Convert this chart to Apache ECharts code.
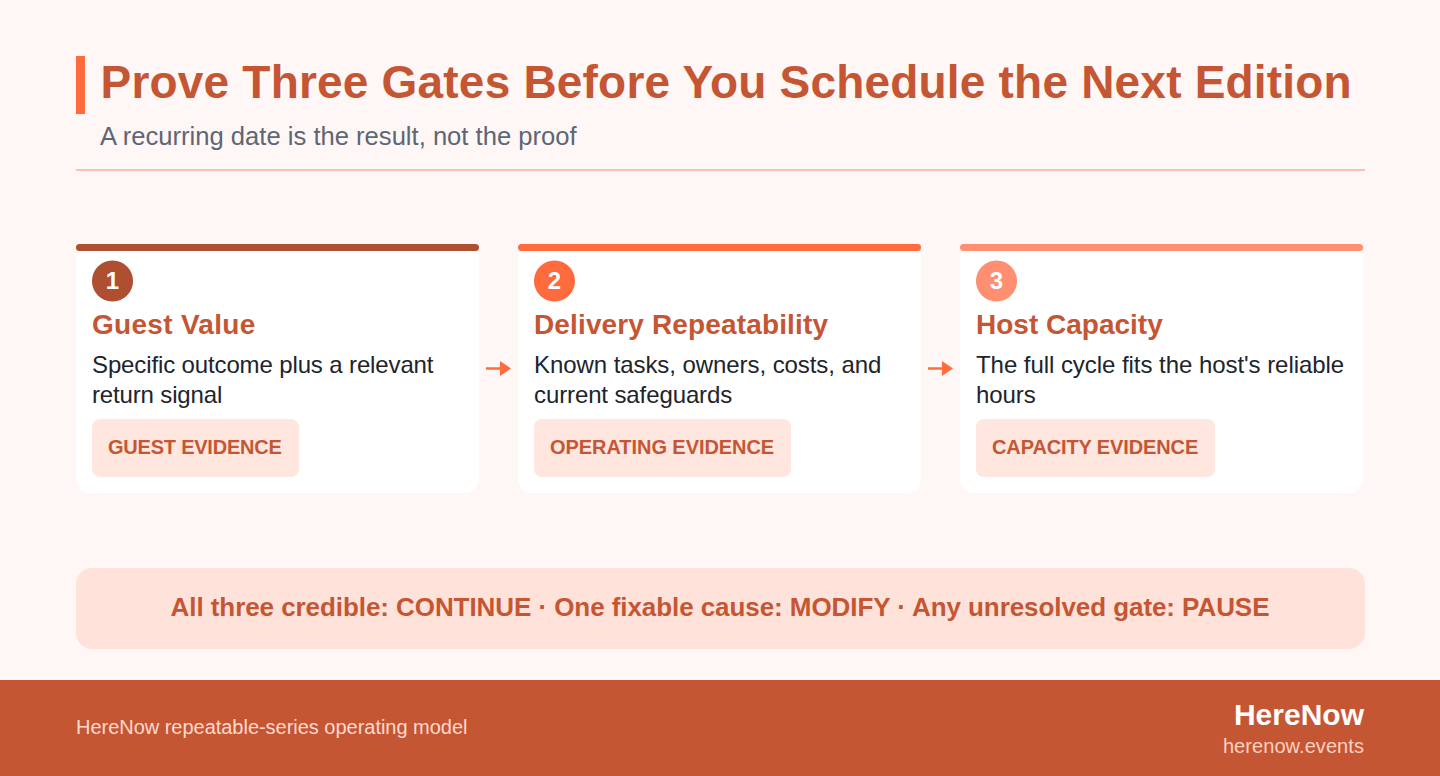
<!DOCTYPE html>
<html><head><meta charset="utf-8">
<style>html,body{margin:0;padding:0;background:#FFF7F5}#c{width:1440px;height:776px}</style>
<script src="https://cdn.jsdelivr.net/npm/echarts@6/dist/echarts.min.js"></script>
</head><body><div id="c"></div>
<script>
const heading = "Prove Three Gates Before You Schedule the Next Edition";
const subheading = "A recurring date is the result, not the proof";
const gateNumbers = ["1","2","3"];
const gateTitles = ["Guest Value","Delivery Repeatability","Host Capacity"];
const gateLine1 = ["Specific outcome plus a relevant","Known tasks, owners, costs, and","The full cycle fits the host's reliable"];
const gateLine2 = ["return signal","current safeguards","hours"];
const gateChips = ["GUEST EVIDENCE","OPERATING EVIDENCE","CAPACITY EVIDENCE"];
const gateColors = ["#AD4F30","#FF6B3D","#FF8F70"];
const verdict = "All three credible: CONTINUE · One fixable cause: MODIFY · Any unresolved gate: PAUSE";
const footerLeft = "HereNow repeatable-series operating model";
const brand = "HereNow";
const brandUrl = "herenow.events";

const F = "'Liberation Sans', Arial, sans-serif";
const rust = "#C55633";
const rect = (x,y,w,h,fill,r,z) => ({type:'rect',shape:{x,y,width:w,height:h,r:r||0},style:{fill},z:z||1,silent:true});
const text = (x,y,t,font,fill,align,z) => ({type:'text',x,y,style:{text:t,font,fill,textAlign:align||'left',textVerticalAlign:'middle'},z:z||5,silent:true});

const els = [];
els.push(rect(0,0,1440,776,'#FFF7F5'));
els.push(rect(76,56,9,58,'#FF6B3D'));
els.push(text(100.5,82,heading,`bold 46px ${F}`,rust));
els.push(text(100,136,subheading,`25.6px ${F}`,'#5D6675'));
els.push(rect(76,169,1289,2,'#FFBFB0'));

const chipW = [207,257,239];
gateTitles.forEach((title,i)=>{
  const x = 76 + i*442;
  els.push(rect(x,244,403,249,'#FFFFFF',14,1));
  els.push(rect(x,244,403,7,gateColors[i],3.5,2));
  els.push({type:'circle',shape:{cx:x+36.5,cy:281,r:20.5},style:{fill:gateColors[i]},z:3,silent:true});
  els.push(text(x+36.5,280.5,gateNumbers[i],`bold 24px ${F}`,'#FFFFFF','center'));
  els.push(text(x+16,324,title,`bold 28px ${F}`,rust));
  els.push(text(x+16,364,gateLine1[i],`24px ${F}`,'#20242C'));
  els.push(text(x+16,394,gateLine2[i],`24px ${F}`,'#20242C'));
  els.push(rect(x+16,419,chipW[i],58,'#FFE6DF',8,3));
  els.push(text(x+32,447,gateChips[i],`bold 20px ${F}`,rust));
  if(i<2){
    els.push({type:'line',shape:{x1:x+410,y1:368.5,x2:x+426,y2:368.5},style:{stroke:'#FF6B3D',lineWidth:2.5},z:3,silent:true});
    els.push({type:'polygon',shape:{points:[[x+424,361],[x+435,368.5],[x+424,376]]},style:{fill:'#FF6B3D'},z:3,silent:true});
  }
});
els.push(rect(76,568,1289,81,'#FFE3DB',16,1));
els.push(text(720,607,verdict,`bold 26px ${F}`,rust,'center'));
els.push(rect(0,680,1440,96,'#C55633'));
els.push(text(76,727,footerLeft,`20px ${F}`,'#FFD9CE'));
els.push(text(1364,714,brand,`bold 30px ${F}`,'#FFFFFF','right'));
els.push(text(1364,746,brandUrl,`20px ${F}`,'#FFD0C2','right'));

const chart = echarts.init(document.getElementById('c'),null,{width:1440,height:776,renderer:'svg'});
chart.setOption({animation:false,backgroundColor:'#FFF7F5',graphic:{elements:els}});

// The reference's hinted glyph advances differ slightly from this renderer's; track each string to its measured width.
const tracking = new Map([
  [heading,.2],
  [gateTitles[0],.3],[gateTitles[1],.14],[gateTitles[2],0],
  [gateLine1[0],-.13],[gateLine1[1],-.07],[gateLine1[2],-.05],
  [gateLine2[0],-.15],[gateLine2[1],-.11],[gateLine2[2],-.1],
  [gateChips[0],-.22],[gateChips[1],-.06],[gateChips[2],-.12],
  [verdict,-.07],[footerLeft,-.025],[brandUrl,.07]
]);
document.querySelectorAll('#c svg text').forEach(t=>{
  const s = tracking.get(t.textContent);
  if(s) t.style.letterSpacing = s+'px';
});
</script></body></html>
